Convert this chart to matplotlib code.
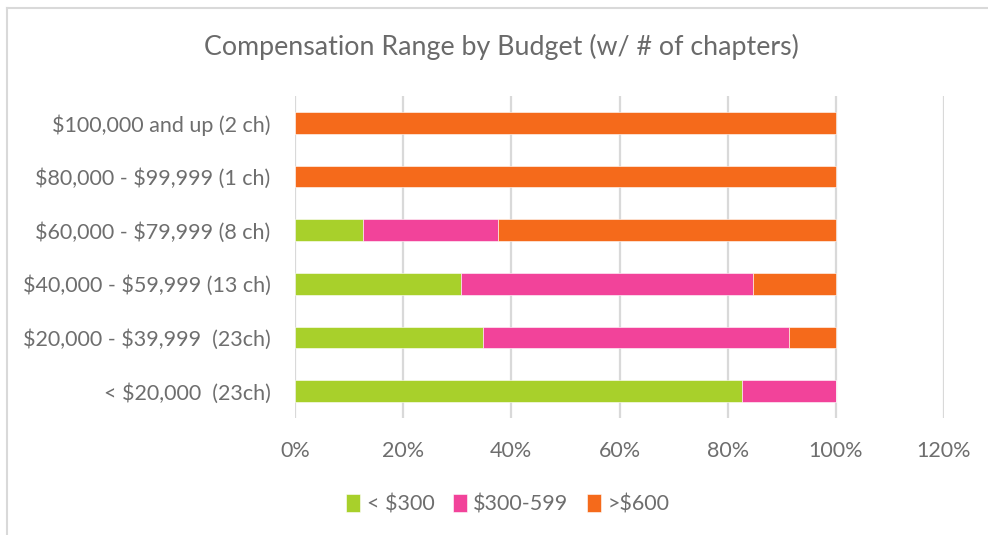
import matplotlib
matplotlib.use("Agg")
import matplotlib.pyplot as plt
from matplotlib.lines import Line2D
from matplotlib.ticker import FuncFormatter

plt.rcParams['font.family'] = ['Lato', 'DejaVu Sans']
plt.rcParams['text.parse_math'] = False

categories = [
    "$100,000 and up (2 ch)",
    "$80,000 - $99,999 (1 ch)",
    "$60,000 - $79,999 (8 ch)",
    "$40,000 - $59,999 (13 ch)",
    "$20,000 - $39,999  (23ch)",
    "< $20,000  (23ch)",
]
series_names = ["< $300", "$300-599", ">$600"]
under_300 = [0.0, 0.0, 0.125, 0.3077, 0.3478, 0.8261]
mid_300_599 = [0.0, 0.0, 0.25, 0.5385, 0.5652, 0.1739]
over_600 = [1.0, 1.0, 0.625, 0.1538, 0.0870, 0.0]
colors = ["#A8D02B", "#F2439A", "#F56A1B"]
x_ticks = [0, 0.2, 0.4, 0.6, 0.8, 1.0, 1.2]

text_gray = "#6E6E6E"

fig = plt.figure(figsize=(9.88, 5.35), dpi=100)
ax = fig.add_axes([0.2986, 0.2187, 0.6569, 0.6019])

ypos = list(range(len(categories)))
left = [0.0] * len(categories)
for name, vals, col in zip(series_names, [under_300, mid_300_599, over_600], colors):
    ax.barh(ypos, vals, left=left, height=0.4, color=col, label=name,
            edgecolor="white", linewidth=0.4, zorder=3)
    left = [l + v for l, v in zip(left, vals)]

ax.set_ylim(len(categories) - 0.5, -0.5)
ax.set_xlim(0, 1.2)
ax.set_xticks(x_ticks)
ax.xaxis.set_major_formatter(FuncFormatter(lambda v, p: f"{v*100:.0f}%"))
ax.set_yticks(ypos)
ax.set_yticklabels(categories)
ax.grid(axis="x", color="#D9D9D9", linewidth=1.6, zorder=0)
for s in ax.spines.values():
    s.set_visible(False)
ax.tick_params(axis="both", length=0, colors=text_gray, labelsize=15.5)
ax.tick_params(axis="y", pad=17.5)
ax.tick_params(axis="x", pad=16.5)

fig.text(0.508, 0.912, "Compensation Range by Budget (w/ # of chapters)",
         ha="center", va="center", fontsize=19.3, color="#6A6A6A")

leg = fig.legend(loc="center", bbox_to_anchor=(0.514, 0.057), ncol=3, frameon=False,
                 fontsize=15.5, handlelength=0.65, handleheight=0.85, handletextpad=0.3,
                 columnspacing=0.85)
for t in leg.get_texts():
    t.set_color(text_gray)

# chart frame edges
fig.add_artist(Line2D([0.0066, 0.0066], [0.0, 0.985], transform=fig.transFigure,
                      color="#D9D9D9", linewidth=1.5))
fig.add_artist(Line2D([0.0066, 1.0], [0.985, 0.985], transform=fig.transFigure,
                      color="#D9D9D9", linewidth=1.5))

fig.savefig("out.png", dpi=100, facecolor="white")
